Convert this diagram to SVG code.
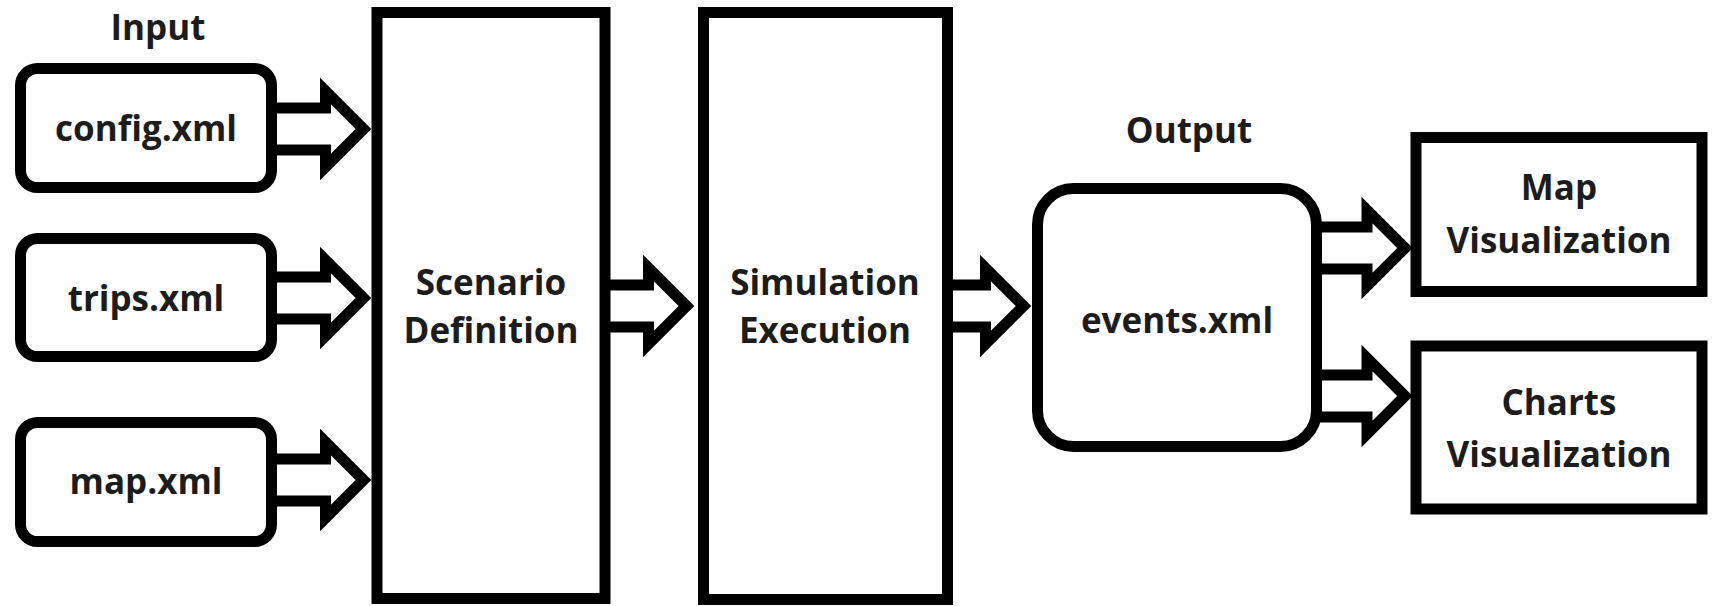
<svg xmlns="http://www.w3.org/2000/svg" width="1712" height="606" viewBox="0 0 1712 606">
  <style>
    .box { fill: #ffffff; stroke: #000000; stroke-width: 11; }
    .flow { fill: #ffffff; stroke: #000000; stroke-width: 11; stroke-linejoin: miter; stroke-miterlimit: 6; }
    .label { font-family: "Open Sans", "Liberation Sans", sans-serif; font-weight: 700; font-size: 35px; fill: #1c1c1c; text-anchor: middle; }
  </style>
  <defs>
    <!-- hollow block arrow, origin at the back of the head, centred on y=0 -->
    <path id="blockArrow" d="M-60,-21 H0 V-38 L38,0 L0,38 V21 H-60"/>
  </defs>
  <rect width="1712" height="606" fill="#ffffff"/>

  <!-- connectors -->
  <g id="connectors">
    <use href="#blockArrow" class="flow" transform="translate(325.5,129)"/>
    <use href="#blockArrow" class="flow" transform="translate(325.5,298)"/>
    <use href="#blockArrow" class="flow" transform="translate(325.5,480)"/>
    <use href="#blockArrow" class="flow" transform="translate(648.5,306)"/>
    <use href="#blockArrow" class="flow" transform="translate(985.5,306)"/>
    <use href="#blockArrow" class="flow" transform="translate(1367,248)"/>
    <use href="#blockArrow" class="flow" transform="translate(1367,396)"/>
  </g>

  <!-- input files -->
  <text class="label" x="158" y="40">Input</text>
  <g id="config">
    <rect class="box" x="20.5" y="68.5" width="251" height="119" rx="17"/>
    <text class="label" x="146" y="141">config.xml</text>
  </g>
  <g id="trips">
    <rect class="box" x="20.5" y="238.5" width="251" height="118" rx="17"/>
    <text class="label" x="146" y="311">trips.xml</text>
  </g>
  <g id="map">
    <rect class="box" x="20.5" y="422.5" width="251" height="119" rx="17"/>
    <text class="label" x="146" y="494">map.xml</text>
  </g>

  <!-- processing stages -->
  <g id="scenario">
    <rect class="box" x="377" y="12.5" width="228" height="586"/>
    <text class="label" x="491" y="295">Scenario</text>
    <text class="label" x="491" y="343">Definition</text>
  </g>
  <g id="simulation">
    <rect class="box" x="703.5" y="12.5" width="244" height="587"/>
    <text class="label" x="825" y="295">Simulation</text>
    <text class="label" x="825" y="343">Execution</text>
  </g>

  <!-- output -->
  <text class="label" x="1189" y="143">Output</text>
  <g id="events">
    <rect class="box" x="1037.5" y="188.5" width="279" height="258" rx="36"/>
    <text class="label" x="1177" y="333">events.xml</text>
  </g>
  <g id="mapvis">
    <rect class="box" x="1416" y="137.5" width="286" height="154"/>
    <text class="label" x="1559" y="200">Map</text>
    <text class="label" x="1559" y="253">Visualization</text>
  </g>
  <g id="chartsvis">
    <rect class="box" x="1416" y="346" width="286" height="163"/>
    <text class="label" x="1559" y="415">Charts</text>
    <text class="label" x="1559" y="467">Visualization</text>
  </g>
</svg>
